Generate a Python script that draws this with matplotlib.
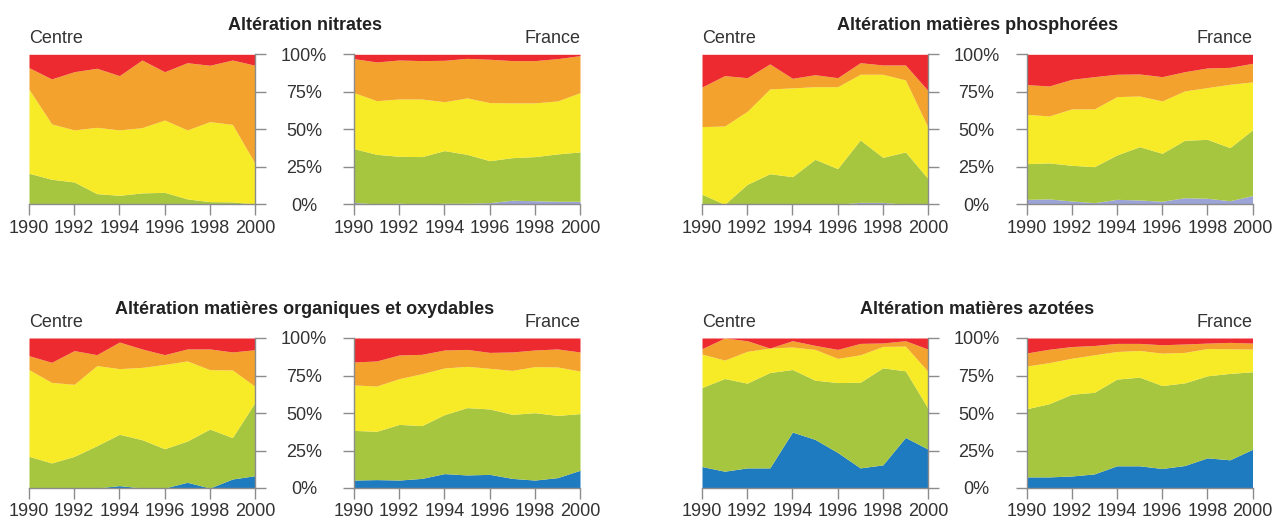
import numpy as np
import matplotlib
matplotlib.use('Agg')
import matplotlib.pyplot as plt

plt.rcParams['font.family'] = ['Liberation Sans', 'DejaVu Sans']

years = list(range(1990, 2001))

# cumulative tops of each band (bottom band first), in %
nitrates_centre = [
    [0.5, 0.3, 0, 0, 0, 0, 0, 0, 0, 0, 0],
    [20.7, 16.7, 14.9, 7.1, 6.0, 7.6, 8.0, 3.6, 1.8, 1.6, 0.2],
    [76.7, 53.6, 49.6, 51.3, 49.6, 51.1, 56.2, 49.6, 55.1, 53.3, 27.3],
    [91.1, 83.6, 88.4, 90.7, 85.8, 96.2, 88.4, 94.4, 92.7, 96.2, 92.7],
]
nitrates_france = [
    [1.3, 0.2, 0.7, 0.2, 0.7, 0.7, 1.1, 2.7, 2.4, 2.0, 2.0],
    [37.1, 33.3, 32.0, 31.8, 35.8, 33.3, 29.1, 31.1, 31.8, 33.6, 34.9],
    [74.4, 69.1, 70.2, 70.2, 68.4, 70.9, 67.8, 67.6, 67.6, 68.9, 74.4],
    [97.1, 94.9, 96.2, 95.8, 96.0, 97.3, 96.7, 95.8, 95.8, 97.1, 99.1],
]
phospho_centre = [
    [0, 0, 0, 0, 0, 0, 0, 1.3, 1.3, 0, 0],
    [6.7, 0, 13.3, 20.4, 18.4, 30.0, 23.8, 42.9, 31.3, 34.9, 17.1],
    [51.8, 52.2, 62.0, 76.9, 77.6, 78.4, 78.4, 86.7, 86.7, 82.9, 51.3],
    [78.2, 85.8, 84.4, 93.6, 84.0, 86.4, 84.4, 94.4, 92.9, 92.9, 75.8],
]
phospho_france = [
    [3.3, 3.6, 2.2, 1.1, 3.3, 2.9, 2.0, 4.4, 4.0, 2.4, 5.8],
    [27.1, 27.6, 26.0, 25.1, 32.9, 38.4, 34.0, 42.7, 43.3, 37.8, 49.6],
    [60.0, 58.9, 63.6, 63.6, 71.8, 72.2, 68.9, 75.6, 77.8, 80.0, 81.6],
    [79.8, 78.9, 83.3, 85.1, 86.7, 86.9, 85.1, 88.4, 90.9, 91.3, 94.0],
]
organiques_centre = [
    [0, 0, 0, 0, 1.6, 0, 0, 3.8, 0, 6.0, 8.2],
    [21.1, 16.7, 21.1, 28.2, 35.8, 32.2, 26.2, 31.3, 39.3, 33.6, 57.1],
    [78.9, 70.4, 69.1, 81.6, 79.6, 80.4, 82.4, 84.7, 78.9, 78.7, 67.8],
    [88.2, 83.8, 91.6, 88.9, 97.3, 92.7, 88.9, 92.7, 92.7, 90.7, 92.2],
]
organiques_france = [
    [5.3, 5.6, 5.3, 6.4, 9.6, 8.7, 9.1, 6.4, 5.3, 6.9, 11.8],
    [38.4, 37.8, 42.4, 41.6, 48.9, 53.6, 52.7, 49.1, 50.2, 48.4, 49.6],
    [68.7, 68.0, 72.9, 76.2, 80.0, 81.1, 79.8, 78.4, 80.9, 80.7, 78.0],
    [84.0, 84.7, 88.7, 89.1, 92.0, 92.4, 90.4, 90.7, 92.0, 92.7, 90.7],
]
azotees_centre = [
    [14.3, 11.2, 13.4, 13.4, 37.3, 32.4, 23.7, 13.4, 15.4, 33.7, 25.9],
    [67.0, 73.0, 69.9, 77.0, 79.0, 71.9, 70.3, 70.5, 80.1, 78.1, 53.1],
    [89.3, 85.3, 91.1, 93.3, 94.0, 92.4, 86.4, 88.8, 94.4, 94.6, 77.7],
    [92.9, 100, 98.2, 93.3, 98.2, 95.1, 92.4, 96.4, 96.7, 98.2, 92.6],
]
azotees_france = [
    [7.4, 7.4, 8.0, 9.4, 14.8, 14.8, 13.0, 15.0, 20.1, 18.8, 25.8],
    [52.8, 56.2, 62.5, 63.8, 72.6, 73.9, 68.3, 70.1, 74.8, 76.4, 77.5],
    [81.3, 83.6, 86.5, 88.8, 91.0, 91.7, 89.9, 90.4, 93.0, 92.8, 92.6],
    [90.0, 92.5, 94.3, 95.0, 96.4, 96.4, 95.5, 96.0, 96.6, 97.1, 96.6],
]

titles = ['Altération nitrates', 'Altération matières phosphorées',
          'Altération matières organiques et oxydables', 'Altération matières azotées']
panels = [(nitrates_centre, nitrates_france), (phospho_centre, phospho_france),
          (organiques_centre, organiques_france), (azotees_centre, azotees_france)]
ytick_labels = ['0%', '25%', '50%', '75%', '100%']

lavender = '#9ca3d6'
blue = '#1f7bbf'
green = '#a7c640'
yellow = '#f7ea26'
orange = '#f3a32d'
red = '#ec2a30'
grey = '#8c8c8c'
txt = '#333333'

W, H = 1273, 520
fig = plt.figure(figsize=(W / 100, H / 100), dpi=100)

lefts = [(29, 354), (702, 1026.5)]
tops = [54.3, 338]
pw, ph = 226, 150


def draw(ax, tops_, first_color):
    x = np.array(years)
    bands = [np.zeros(len(x))] + [np.array(t, dtype=float) for t in tops_] + [np.full(len(x), 100.0)]
    colors = [first_color, green, yellow, orange, red]
    for i, c in enumerate(colors):
        ax.fill_between(x, bands[i], bands[i + 1], color=c, lw=0)
    ax.set_xlim(1990, 2000)
    ax.set_ylim(0, 100)
    ax.set_xticks(range(1990, 2001, 2))
    ax.set_yticks([0, 25, 50, 75, 100])
    ax.tick_params(axis='both', length=8, width=1, color=grey, labelcolor=txt, labelsize=13, direction='out')
    ax.tick_params(axis='x', pad=3)
    ax.spines['top'].set_visible(False)
    for s in ax.spines.values():
        s.set_color(grey)
        s.set_linewidth(1)


for k, (centre, france) in enumerate(panels):
    row, col = divmod(k, 2)
    lc, lf = lefts[col]
    bottom = 1 - (tops[row] + ph) / H
    ax1 = fig.add_axes([lc / W, bottom, pw / W, ph / H])
    ax2 = fig.add_axes([lf / W, bottom, pw / W, ph / H])
    first = lavender if row == 0 else blue
    draw(ax1, centre, first)
    draw(ax2, france, first)

    ax1.spines['left'].set_visible(False)
    ax1.yaxis.tick_right()
    ax1.set_yticklabels([])
    ax2.spines['right'].set_visible(False)
    ax2.yaxis.tick_left()
    ax2.set_yticklabels(ytick_labels)
    for lab in ax2.get_yticklabels():
        lab.set_horizontalalignment('center')
    ax2.tick_params(axis='y', pad=28)

    ax1.annotate('Centre', xy=(0, 1), xycoords='axes fraction', xytext=(0, 8),
                 textcoords='offset points', ha='left', va='baseline', fontsize=13, color=txt)
    ax2.annotate('France', xy=(1, 1), xycoords='axes fraction', xytext=(0, 8),
                 textcoords='offset points', ha='right', va='baseline', fontsize=13, color=txt)

    cx = (lc + lf + pw) / 2 / W
    fig.text(cx, 1 - (tops[row] - 24) / H, titles[k], ha='center', va='baseline',
             fontsize=13, fontweight='bold', color='#222222')

fig.savefig('out.png', dpi=100)
